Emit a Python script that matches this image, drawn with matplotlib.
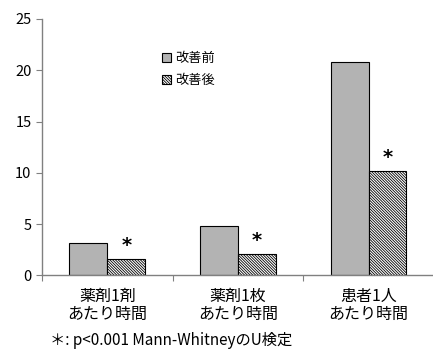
import numpy as np
import matplotlib.pyplot as plt

plt.rcParams['font.family'] = ['Noto Sans CJK JP', 'DejaVu Sans']
plt.rcParams['hatch.linewidth'] = 0.6

categories = ["薬剤1剤\nあたり時間", "薬剤1枚\nあたり時間", "患者1人\nあたり時間"]
before = [3.2, 4.85, 20.8]
after = [1.6, 2.05, 10.15]
significant = [True, True, True]
series_names = ["改善前", "改善後"]
footnote = "＊: p<0.001 Mann-WhitneyのU検定"


def main():
    fig = plt.figure(figsize=(4.33, 3.5), dpi=100)
    ax = fig.add_axes([0.097, 0.213, 0.905, 0.733])

    x = np.arange(len(categories))
    w = 0.29
    ax.bar(x - w / 2, before, w, color='#b3b3b3', edgecolor='black',
           linewidth=0.8, label=series_names[0])
    ax.bar(x + w / 2, after, w, color='white', edgecolor='black',
           linewidth=0.8, hatch='\\' * 12, label=series_names[1])

    for xi, v, s in zip(x, after, significant):
        if s:
            ax.annotate("*", (xi + w / 2, v), xytext=(0, 3), textcoords='offset points',
                        ha='center', va='bottom', fontsize=14, fontweight='bold',
                        family='DejaVu Sans')

    ax.set_xlim(-0.5, 2.5)
    ax.set_ylim(0, 25)
    ax.set_yticks(range(0, 26, 5))
    ax.set_xticks([-0.5, 0.5, 1.5, 2.5], minor=False)
    ax.set_xticklabels([])
    ax.set_xticks(x, minor=True)
    ax.set_xticklabels(categories, minor=True, fontsize=11.5, linespacing=1.05)
    ax.tick_params(axis='x', which='minor', length=0, pad=9)
    ax.tick_params(axis='x', which='major', length=4, direction='out', color='#808080')
    ax.tick_params(axis='y', length=4, direction='out', color='#808080', labelsize=10.5)

    for side in ['top', 'right']:
        ax.spines[side].set_visible(False)
    for side in ['left', 'bottom']:
        ax.spines[side].set_color('#808080')
        ax.spines[side].set_linewidth(1.0)

    ax.legend(loc='upper left', bbox_to_anchor=(0.305, 0.87), frameon=False,
              fontsize=9.5, handlelength=0.7, handleheight=0.7, handletextpad=0.3,
              labelspacing=0.7, borderpad=0, borderaxespad=0)

    fig.text(0.115, 0.004, footnote, fontsize=11, ha='left', va='bottom')

    fig.savefig("out.png", dpi=100)


if __name__ == "__main__":
    main()
